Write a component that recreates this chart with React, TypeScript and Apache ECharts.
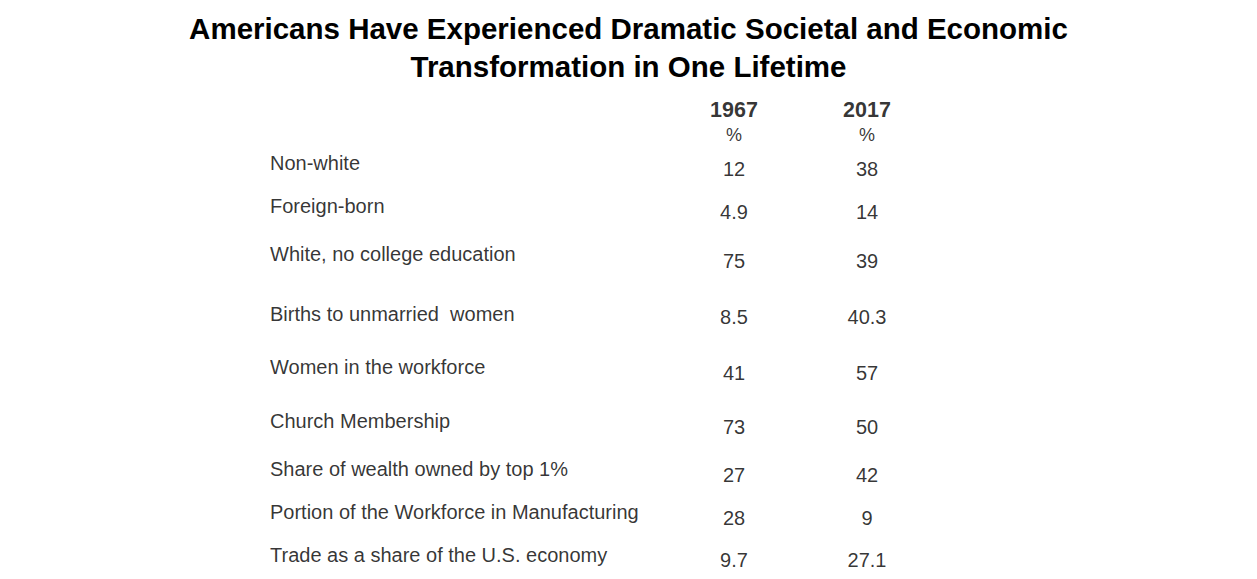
import { useEffect, useRef } from "react";
import * as echarts from "echarts";

const titleLines = [
  "Americans Have Experienced Dramatic Societal and Economic",
  "Transformation in One Lifetime",
];
const years = ["1967", "2017"];
const unitLabel = "%";
const categories = [
  "Non-white",
  "Foreign-born",
  "White, no college education",
  "Births to unmarried  women",
  "Women in the workforce",
  "Church Membership",
  "Share of wealth owned by top 1%",
  "Portion of the Workforce in Manufacturing",
  "Trade as a share of the U.S. economy",
];
const values1967 = [12, 4.9, 75, 8.5, 41, 73, 27, 28, 9.7];
const values2017 = [38, 14, 39, 40.3, 57, 50, 42, 9, 27.1];

// layout (not data)
const W = 1257;
const H = 579;
const LABEL_X = 270;
const COL_X = [734, 867];
const HEADER_Y = 110;
const UNIT_Y = 135;
const LABEL_ROW_Y = [163, 206, 254, 314, 367, 421, 469, 512, 555];
const VALUE_ROW_Y = [169, 212, 261, 317, 373, 427, 475, 518, 560];

const FONT = "'Liberation Sans', Arial, sans-serif";

export default function App() {
  const ref = useRef<HTMLDivElement>(null);
  useEffect(() => {
    if (!ref.current) return;
    const chart = echarts.init(ref.current, undefined, { renderer: "svg" });
    const textSeries = (
      name: string,
      data: { value: number[]; name: string }[],
      align: string,
      fontSize: number,
      fontWeight: string
    ) => ({
      type: "scatter",
      name,
      symbolSize: 0,
      silent: true,
      data,
      label: {
        show: true,
        position: "inside",
        align,
        verticalAlign: "middle",
        formatter: (p: any) => p.name,
        fontFamily: FONT,
        fontSize,
        fontWeight,
        color: "#000",
        textBorderWidth: 0,
      },
      emphasis: { disabled: true },
    });
    const valueCols = [values1967, values2017];
    chart.setOption({
      animation: false,
      backgroundColor: "#fff",
      title: {
        text: titleLines.join("\n"),
        left: "center",
        top: 4,
        textStyle: {
          fontFamily: FONT,
          fontSize: 29.5,
          fontWeight: "bold",
          lineHeight: 38,
          color: "#000",
        },
      },
      grid: { left: 0, right: 0, top: 0, bottom: 0 },
      xAxis: { type: "value", min: 0, max: W, show: false },
      yAxis: { type: "value", min: 0, max: H, inverse: true, show: false },
      series: [
        textSeries(
          "categories",
          categories.map((c, i) => ({ value: [LABEL_X, LABEL_ROW_Y[i]], name: c })),
          "left",
          20,
          "normal"
        ),
        textSeries(
          "years",
          years.map((y, i) => ({ value: [COL_X[i], HEADER_Y], name: y })),
          "center",
          21.5,
          "bold"
        ),
        textSeries(
          "units",
          years.map((_, i) => ({ value: [COL_X[i], UNIT_Y], name: unitLabel })),
          "center",
          18,
          "normal"
        ),
        ...years.map((y, ci) =>
          textSeries(
            y,
            valueCols[ci].map((v, i) => ({ value: [COL_X[ci], VALUE_ROW_Y[i]], name: String(v) })),
            "center",
            20,
            "normal"
          )
        ),
      ],
    });
    return () => chart.dispose();
  }, []);
  return (
    <div
      ref={ref}
      style={{ position: "fixed", left: 0, top: 0, width: W, height: H, background: "#fff" }}
    />
  );
}
